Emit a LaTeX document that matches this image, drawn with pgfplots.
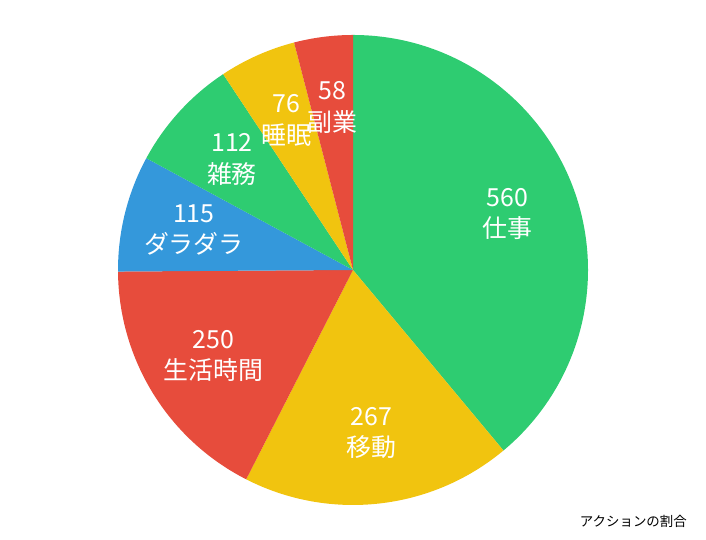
\documentclass[border=0pt]{standalone}
\usepackage{pgfplots}
\usepackage{pgfplotstable}
\pgfplotsset{compat=1.18}
\usepackage{fontspec}
\setmainfont{Noto Sans CJK JP}

\definecolor{pgreen}{HTML}{2ECC71}
\definecolor{pyellow}{HTML}{F1C40F}
\definecolor{pred}{HTML}{E74C3C}
\definecolor{pblue}{HTML}{3498DB}

% slices clockwise from 12 o'clock
\pgfplotstableread{
value name col
560 仕事 pgreen
267 移動 pyellow
250 生活時間 pred
115 ダラダラ pblue
112 雑務 pgreen
76 睡眠 pyellow
58 副業 pred
}\piedata

\pgfplotstablegetrowsof{\piedata}
\pgfmathtruncatemacro\pielast{\pgfplotsretval-1}
\gdef\pietotal{0}
\foreach \i in {0,...,\pielast}{%
  \pgfplotstablegetelem{\i}{value}\of\piedata
  \pgfmathsetmacro\pietmp{\pietotal+\pgfplotsretval}%
  \xdef\pietotal{\pietmp}%
}
\gdef\piecum{0}
\foreach \i in {0,...,\pielast}{%
  \pgfplotstablegetelem{\i}{value}\of\piedata
  \let\pieval\pgfplotsretval
  \pgfmathsetmacro\pieS{90-360*(\piecum/\pietotal)}%
  \pgfmathsetmacro\pietmp{\piecum+\pieval}%
  \xdef\piecum{\pietmp}%
  \pgfmathsetmacro\pieE{90-360*(\piecum/\pietotal)}%
  \pgfmathsetmacro\pieM{(\pieS+\pieE)/2}%
  \expandafter\xdef\csname pieA\i\endcsname{\pieS}%
  \expandafter\xdef\csname pieB\i\endcsname{\pieE}%
  \expandafter\xdef\csname pieM\i\endcsname{\pieM}%
  \expandafter\xdef\csname pieV\i\endcsname{\pieval}%
  \pgfplotstablegetelem{\i}{name}\of\piedata
  \expandafter\xdef\csname pieN\i\endcsname{\pgfplotsretval}%
  \pgfplotstablegetelem{\i}{col}\of\piedata
  \expandafter\xdef\csname pieC\i\endcsname{\pgfplotsretval}%
}

\begin{document}
\begin{tikzpicture}
\begin{axis}[
  width=706bp, height=540bp, scale only axis,
  xmin=0, xmax=706, ymin=0, ymax=540,
  hide axis, clip=false,
]
\path (rel axis cs:0,0) rectangle (rel axis cs:1,1);
\pgfplotsinvokeforeach{0,...,6}{
  \fill[\csname pieC#1\endcsname] (axis cs:353,270) -- ++(\csname pieA#1\endcsname:235bp)
    arc[start angle=\csname pieA#1\endcsname, end angle=\csname pieB#1\endcsname, radius=235bp] -- cycle;
}
\pgfplotsinvokeforeach{0,...,6}{
  \path (axis cs:353,270) ++(\csname pieM#1\endcsname:164bp)
    node[white, align=center, font=\fontsize{25}{31.5}\selectfont, inner sep=0pt]
    {\csname pieV#1\endcsname\\\csname pieN#1\endcsname};
}
\node[anchor=east, inner sep=0pt, font=\fontsize{13.5}{16}\selectfont] at (axis cs:687,19) {アクションの割合};
\end{axis}
\end{tikzpicture}
\end{document}
